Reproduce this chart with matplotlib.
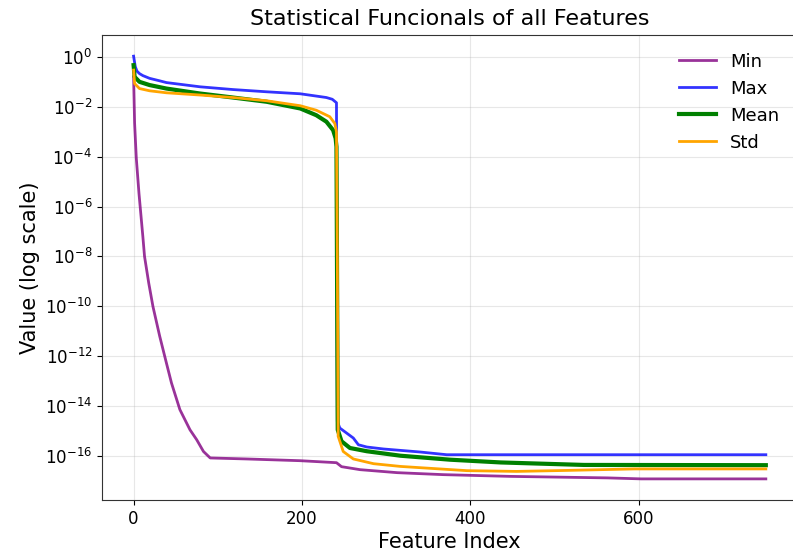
import matplotlib.pyplot as plt
from matplotlib.ticker import MultipleLocator
import numpy as np

# Values (feature index, log10 of value)
min_idx = [0, 1.2, 3.2, 6.4, 11, 13, 18, 23, 31, 39, 45, 55, 67, 75, 83, 91, 134, 198,
           241, 247, 269, 313, 368, 448, 563, 603, 751]
min_log = [-0.79, -2.65, -4.05, -5.47, -7.2, -8.0, -9.07, -10.01, -11.2, -12.28, -13.08,
           -14.15, -14.96, -15.36, -15.83, -16.09, -16.13, -16.2, -16.28, -16.44, -16.56,
           -16.68, -16.76, -16.83, -16.89, -16.93, -16.93]

max_idx = [0, 2, 4, 7, 11, 19, 31, 39, 79, 118, 158, 198, 229, 236, 241, 242, 245, 253,
           261, 267, 277, 297, 340, 372, 751]
max_log = [0.04, -0.38, -0.56, -0.66, -0.74, -0.85, -0.95, -1.02, -1.19, -1.30, -1.39,
           -1.47, -1.62, -1.69, -1.83, -14.62, -14.89, -15.09, -15.29, -15.56, -15.65,
           -15.73, -15.85, -15.96, -15.96]

mean_idx = [0, 1.2, 7, 19, 39, 79, 118, 158, 198, 217, 229, 237, 240, 241, 242.5, 247,
            257, 277, 317, 376, 436, 495, 535, 751]
mean_log = [-0.32, -0.79, -0.99, -1.12, -1.26, -1.46, -1.62, -1.79, -2.06, -2.33, -2.59,
            -2.93, -3.26, -3.6, -14.96, -15.42, -15.69, -15.82, -16.0, -16.16, -16.27,
            -16.33, -16.37, -16.38]

std_idx = [0, 1.2, 7, 19, 39, 79, 118, 158, 198, 217, 233, 239, 241, 242, 243, 249, 261,
           285, 317, 396, 455, 515, 595, 751]
std_log = [-0.52, -1.06, -1.26, -1.35, -1.43, -1.52, -1.62, -1.75, -1.95, -2.13, -2.39,
           -2.66, -3.0, -8.0, -15.22, -15.83, -16.13, -16.32, -16.43, -16.6, -16.63,
           -16.59, -16.53, -16.53]

series = [
    ('Min', min_idx, min_log, 'purple', 0.8, 2),
    ('Max', max_idx, max_log, 'blue', 0.8, 2),
    ('Mean', mean_idx, mean_log, 'green', 1.0, 3),
    ('Std', std_idx, std_log, 'orange', 1.0, 2),
]

fig = plt.figure(figsize=(7.93, 5.57), dpi=100)
ax = fig.add_axes([0.1286, 0.1023, 0.877, 0.8348])

for name, idx, lg, col, a, lw in series:
    ax.plot(idx, 10.0 ** np.array(lg), color=col, alpha=a, linewidth=lw, label=name)

ax.set_yscale('log')
ax.xaxis.set_major_locator(MultipleLocator(200))
ax.set_title('Statistical Funcionals of all Features', fontsize=16, pad=7)
ax.set_xlabel('Feature Index', fontsize=15, labelpad=3)
ax.set_ylabel('Value (log scale)', fontsize=15)
ax.tick_params(labelsize=12)
for sp in ax.spines.values():
    sp.set_color('#333333')
ax.grid(True, alpha=0.3)
ax.legend(frameon=False, fontsize=13, loc='upper right',
          bbox_to_anchor=(0.997, 0.997))

fig.savefig('out.png', dpi=100, facecolor='white')
